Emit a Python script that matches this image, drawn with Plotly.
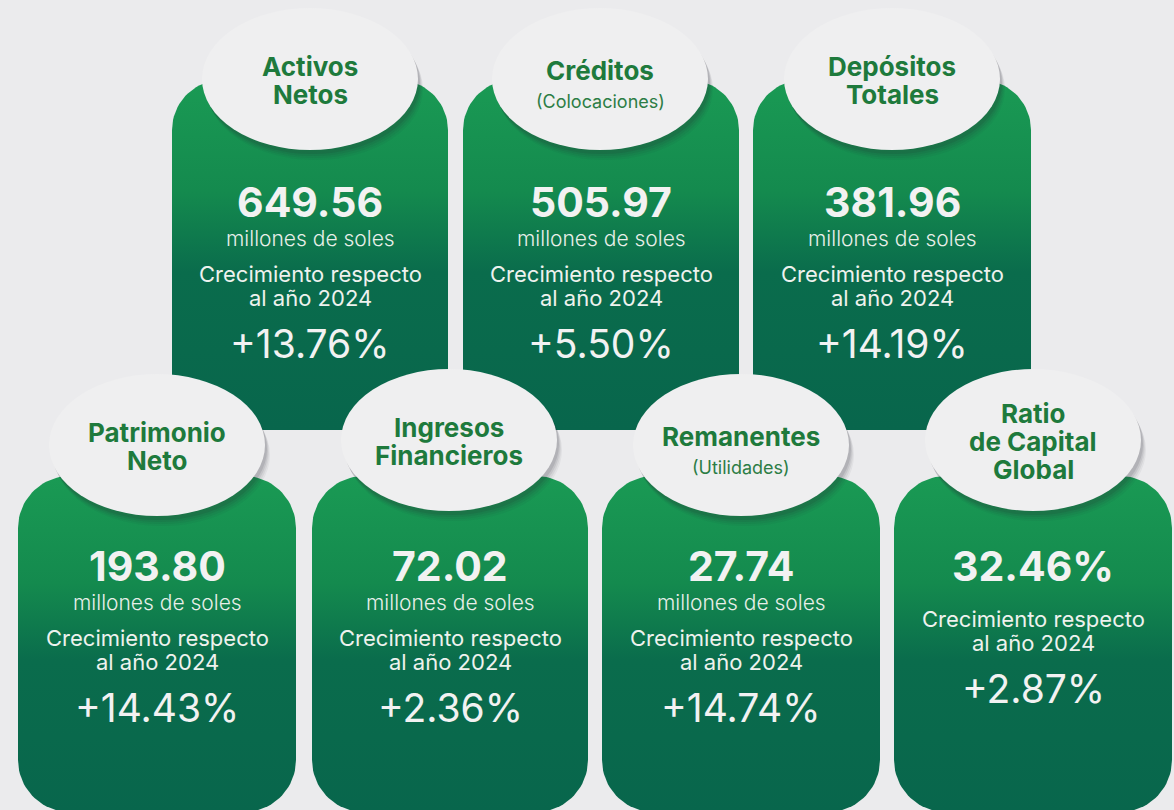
import numpy as np
import plotly.graph_objects as go

# ---- data ----
titles = ["Activos<br>Netos", "Créditos", "Depósitos<br>Totales",
          "Patrimonio<br>Neto", "Ingresos<br>Financieros", "Remanentes",
          "Ratio<br>de Capital<br>Global"]
subtitles = ["", "(Colocaciones)", "", "", "", "(Utilidades)", ""]
values = [649.56, 505.97, 381.96, 193.80, 72.02, 27.74, 32.46]
value_suffix = ["", "", "", "", "", "", "%"]
units = ["millones de soles"] * 6 + [""]
growth = [13.76, 5.50, 14.19, 14.43, 2.36, 14.74, 2.87]
growth_lines = ["Crecimiento respecto", "al año 2024"]

# ---- layout constants ----
W, H = 1174, 810
BG = "#ebebed"
FONT = "Inter"
TOP_X = [(172, 448), (463, 739), (753, 1031)]
BOT_X = [(18, 296), (312, 588), (602, 880), (894, 1172)]
TOP_Y = (80, 430)
BOT_Y = (476, 812)
TOP_ELL = [(310, 79), (600, 79), (892, 79)]
BOT_ELL = [(157, 445), (449, 440), (741, 445), (1033, 440)]
RX, RY = 108, 71


def rounded_rect(x0, x1, y0, y1, r_top, r_bot):
    pts = []
    def arc(cx, cy, r, a0, a1):
        t = np.linspace(a0, a1, 24)
        return [(cx + r * np.cos(a), cy + r * np.sin(a)) for a in t]
    if r_top > 0:
        pts += arc(x0 + r_top, y0 + r_top, r_top, np.pi, 1.5 * np.pi)
        pts += arc(x1 - r_top, y0 + r_top, r_top, 1.5 * np.pi, 2 * np.pi)
    else:
        pts += [(x0, y0), (x1, y0)]
    if r_bot > 0:
        pts += arc(x1 - r_bot, y1 - r_bot, r_bot, 0, 0.5 * np.pi)
        pts += arc(x0 + r_bot, y1 - r_bot, r_bot, 0.5 * np.pi, np.pi)
    else:
        pts += [(x1, y1), (x0, y1)]
    pts.append(pts[0])
    xs, ys = zip(*pts)
    return list(xs), list(ys)


fig = go.Figure()

cards = [(x, TOP_Y, 50, 0) for x in TOP_X] + [(x, BOT_Y, 52, 52) for x in BOT_X]
for (x0, x1), (y0, y1), rt, rb in cards:
    xs, ys = rounded_rect(x0, x1, y0, y1, rt, rb)
    fig.add_trace(go.Scatter(
        x=xs, y=ys, mode="lines", fill="toself", line=dict(width=0),
        fillgradient=dict(type="vertical",
                          colorscale=[[0, "#08664c"], [0.45, "#0a6c4c"],
                                      [0.68, "#148a4e"], [1, "#1a9a54"]],
                          start=y1, stop=y0),
        hoverinfo="skip", showlegend=False))

shapes = []
for cx, cy in TOP_ELL + BOT_ELL:
    for k, a in [(10, 0.05), (8, 0.07), (6, 0.09), (4, 0.11)]:
        shapes.append(dict(type="circle", xref="x", yref="y",
                           x0=cx - RX + k * 0.5, x1=cx + RX + k * 0.5,
                           y0=cy - RY + k, y1=cy + RY + k,
                           fillcolor=f"rgba(40,40,50,{a})", line=dict(width=0),
                           layer="above"))
    shapes.append(dict(type="circle", xref="x", yref="y",
                       x0=cx - RX, x1=cx + RX, y0=cy - RY, y1=cy + RY,
                       fillcolor="#efeff0", line=dict(width=0), layer="above"))

ann = []
def txt(x, y, s, size, color="white", weight="normal"):
    ann.append(dict(x=x, y=y, xref="x", yref="y", text=s, showarrow=False,
                    xanchor="center", yanchor="middle",
                    font=dict(family=FONT, size=size, color=color, weight=weight)))

centers = [(a + b) / 2 for a, b in TOP_X] + [(a + b) / 2 for a, b in BOT_X]
ell_all = TOP_ELL + BOT_ELL
for i in range(7):
    cx = centers[i]
    ex, ey = ell_all[i]
    top = i < 3
    lines = titles[i].split("<br>")
    n = len(lines)
    if subtitles[i]:
        txt(ex, ey - 9, lines[0], 26, "#1e7a3c", "bold")
        txt(ex, ey + 22, subtitles[i], 18, "#2c7d45")
    else:
        for j, ln in enumerate(lines):
            txt(ex, ey + 1 - 14 * (n - 1) + 28 * j, ln, 26, "#1e7a3c", "bold")
    base = 202 if top else 566
    vtxt = f"{values[i]:.2f}{value_suffix[i]}"
    txt(cx, base, vtxt, 41, "#f2f2f2", "bold")
    if units[i]:
        txt(cx, base + 36, units[i], 21, "#e8efe9", 300)
        off = 0
    else:
        off = -19
    txt(cx, base + 72 + off, growth_lines[0], 22, "#eef2ee")
    txt(cx, base + 96 + off, growth_lines[1], 22, "#eef2ee")
    txt(cx, base + 141 + off, f"+{growth[i]:.2f}%", 39, "#f2f2f2")

fig.update_layout(
    width=W, height=H, margin=dict(l=0, r=0, t=0, b=0),
    paper_bgcolor=BG, plot_bgcolor=BG,
    xaxis=dict(range=[0, W], visible=False, fixedrange=True),
    yaxis=dict(range=[H, 0], visible=False, fixedrange=True),
    shapes=shapes, annotations=ann, showlegend=False)

fig.write_html("out.html", config={"displayModeBar": False},
               post_script="document.body.style.margin='0';"
                           "document.body.style.background='#ebebed';")
